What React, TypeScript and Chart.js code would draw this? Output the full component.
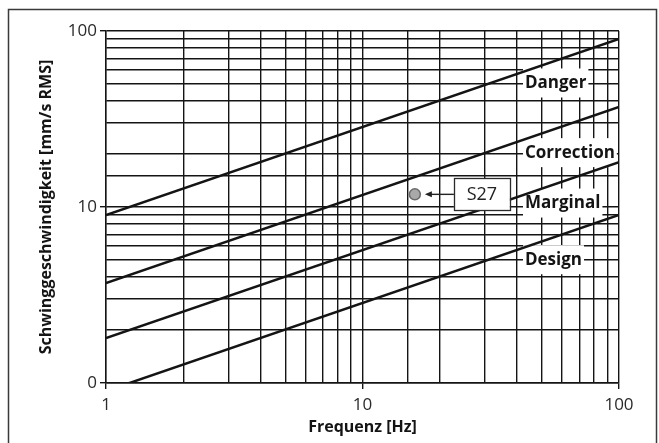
import React, { useEffect, useRef } from 'react';
import { Chart, registerables } from 'chart.js';

Chart.register(...registerables);

// ---- data ----
const frequencyHz = [1, 100];
const dangerLimit = [9, 90];
const correctionLimit = [3.7, 37];
const marginalLimit = [1.8, 18];
const designLimit = [0.9, 9];

const zoneNames = ['Danger', 'Correction', 'Marginal', 'Design'];
const zoneLabelVelocity = [51, 20.5, 10.6, 5.05];
const zoneLabelFrequency = 43;

const measurementName = 'S27';
const measurementFrequency = [16];
const measurementVelocity = [11.8];
const measurementBoxFrequency = 29.2;

const labeledTicks = [1, 10, 100];
const xTickText = ['1', '10', '100'];
const yTickText = ['0', '10', '100'];

const INK = '#141414';
const FONT = '"Open Sans", "Noto Sans", sans-serif';

const toPoints = (ys: number[]) => frequencyHz.map((f, i) => ({ x: f, y: ys[i] }));

const overlayPlugin = {
  id: 'overlay',
  beforeDraw(chart: any) {
    const { ctx } = chart;
    ctx.save();
    ctx.fillStyle = '#ffffff';
    ctx.fillRect(0, 0, chart.width, chart.height);
    ctx.strokeStyle = '#3a3a3a';
    ctx.lineWidth = 1.5;
    ctx.strokeRect(8.5, 9.5, 648, 440);
    ctx.restore();
  },
  beforeDatasetsDraw(chart: any) {
    const { ctx, scales } = chart;
    const x = scales.x, y = scales.y;
    ctx.save();
    ctx.font = `bold 17px ${FONT}`;
    zoneNames.forEach((name, i) => {
      const px = x.getPixelForValue(zoneLabelFrequency);
      const py = y.getPixelForValue(zoneLabelVelocity[i]);
      const w = ctx.measureText(name).width;
      ctx.fillStyle = '#ffffff';
      ctx.fillRect(px - 2, py - 14, w + 4, 29);
    });
    ctx.restore();
  },
  afterDatasetsDraw(chart: any) {
    const { ctx, scales } = chart;
    const x = scales.x, y = scales.y;
    ctx.save();
    ctx.font = `bold 17px ${FONT}`;
    ctx.textBaseline = 'middle';
    ctx.textAlign = 'left';
    ctx.fillStyle = INK;
    zoneNames.forEach((name, i) => {
      const px = x.getPixelForValue(zoneLabelFrequency);
      const py = y.getPixelForValue(zoneLabelVelocity[i]);
      ctx.fillText(name, px, py + 1);
    });

    // measurement label box + arrow
    const bx = x.getPixelForValue(measurementBoxFrequency);
    const by = y.getPixelForValue(measurementVelocity[0]);
    const px = x.getPixelForValue(measurementFrequency[0]);
    const bw = 56, bh = 32;
    ctx.fillStyle = '#ffffff';
    ctx.fillRect(bx - bw / 2, by - bh / 2, bw, bh);
    ctx.strokeStyle = '#2a2a2a';
    ctx.lineWidth = 1.3;
    ctx.strokeRect(Math.round(bx - bw / 2) + 0.5, Math.round(by - bh / 2) + 0.5, bw, bh);
    ctx.fillStyle = '#222';
    ctx.font = `18px ${FONT}`;
    ctx.textAlign = 'center';
    ctx.fillText(measurementName, bx, by + 1);

    const startX = bx - bw / 2;
    const tipX = px + 10;
    ctx.strokeStyle = '#222';
    ctx.lineWidth = 1.4;
    ctx.beginPath();
    ctx.moveTo(startX, by);
    ctx.lineTo(tipX + 5, by);
    ctx.stroke();
    ctx.fillStyle = '#222';
    ctx.beginPath();
    ctx.moveTo(tipX, by);
    ctx.lineTo(tipX + 7, by - 3);
    ctx.lineTo(tipX + 7, by + 3);
    ctx.closePath();
    ctx.fill();
    ctx.restore();
  },
};

export default function App() {
  const canvasRef = useRef<HTMLCanvasElement | null>(null);

  useEffect(() => {
    if (!canvasRef.current) return;
    const lineDs = (label: string, ys: number[]) => ({
      type: 'line' as const,
      label,
      data: toPoints(ys),
      borderColor: INK,
      borderWidth: 2.5,
      pointRadius: 0,
      fill: false,
      tension: 0,
    });
    const tickColor = (c: any) => (c.tick && labeledTicks.includes(c.tick.value) ? INK : 'rgba(0,0,0,0)');
    const chart = new Chart(canvasRef.current, {
      type: 'scatter',
      data: {
        datasets: [
          lineDs('Danger', dangerLimit),
          lineDs('Correction', correctionLimit),
          lineDs('Marginal', marginalLimit),
          lineDs('Design', designLimit),
          {
            type: 'scatter' as const,
            label: measurementName,
            data: measurementFrequency.map((f, i) => ({ x: f, y: measurementVelocity[i] })),
            backgroundColor: '#a9a9a9',
            borderColor: '#6a6a6a',
            borderWidth: 1.5,
            pointRadius: 5.5,
          },
        ] as any,
      },
      options: {
        animation: false,
        responsive: true,
        maintainAspectRatio: false,
        layout: { padding: { top: 31, right: 40, left: 8, bottom: 0 } },
        plugins: { legend: { display: false }, tooltip: { enabled: false } },
        scales: {
          x: {
            type: 'logarithmic',
            min: 1,
            max: 100,
            afterFit: (s: any) => { s.height = 60; },
            grid: { color: INK, lineWidth: 1.4, tickLength: 6, tickColor },
            border: { color: INK, width: 1.4 },
            ticks: {
              autoSkip: false,
              maxRotation: 0,
              padding: 6,
              color: '#2a2a2a',
              font: { family: FONT, size: 17 },
              callback: (v: any) => {
                const i = labeledTicks.indexOf(Number(v));
                return i >= 0 ? xTickText[i] : '';
              },
            },
            title: {
              display: true,
              text: 'Frequenz [Hz]',
              color: INK,
              font: { family: FONT, size: 16, weight: 'bold' },
              padding: { top: 0, bottom: 6 },
            },
          },
          y: {
            type: 'logarithmic',
            min: 1,
            max: 100,
            afterFit: (s: any) => { s.width = 98; },
            grid: { color: INK, lineWidth: 1.4, tickLength: 6, tickColor },
            border: { color: INK, width: 1.4 },
            ticks: {
              autoSkip: false,
              padding: 3,
              color: '#2a2a2a',
              font: { family: FONT, size: 17 },
              callback: (v: any) => {
                const i = labeledTicks.indexOf(Number(v));
                return i >= 0 ? yTickText[i] : '';
              },
            },
            title: {
              display: true,
              text: 'Schwinggeschwindigkeit [mm/s RMS]',
              color: INK,
              font: { family: FONT, size: 16, weight: 'bold' },
              padding: { top: 29, bottom: 0 },
            },
          },
        },
      } as any,
      plugins: [overlayPlugin],
    });
    return () => chart.destroy();
  }, []);

  return (
    <div style={{ position: 'absolute', left: 0, top: 0, width: 659, height: 443 }}>
      <canvas ref={canvasRef} />
    </div>
  );
}
